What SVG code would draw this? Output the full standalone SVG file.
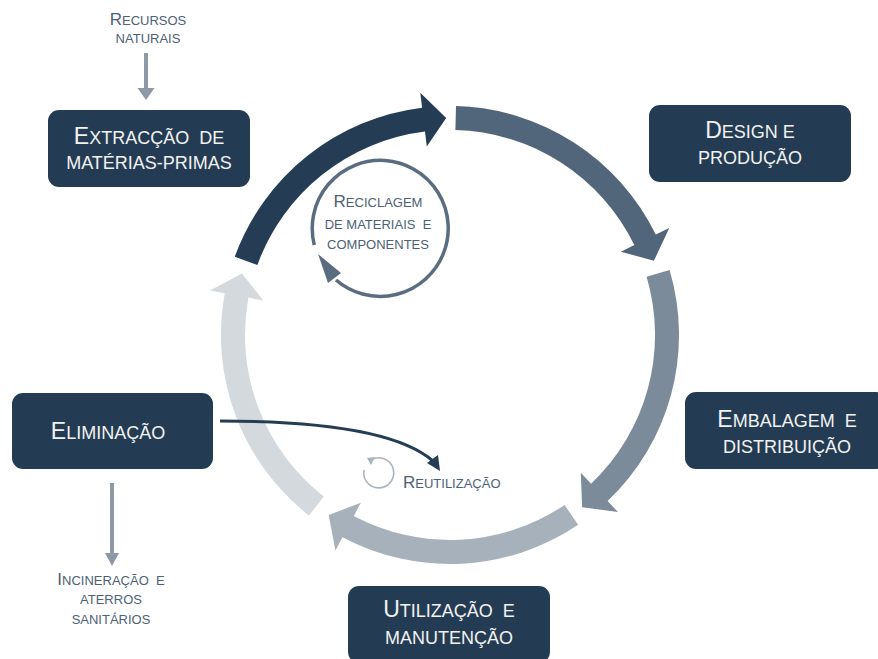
<svg xmlns="http://www.w3.org/2000/svg" width="878" height="659" viewBox="0 0 878 659">
<style>
.box{fill:#243c53}
.bt{font-family:"Liberation Sans",Arial,sans-serif;font-size:18px;fill:#f2f2f2;text-anchor:middle;white-space:pre}
.bt .c{font-size:23px}
.ot{font-family:"Liberation Sans",Arial,sans-serif;font-size:13px;fill:#4d6176;text-anchor:middle;white-space:pre}
.ot .c{font-size:17px}
.gray{stroke:#8d99a6;stroke-width:4;fill:none}
</style>
<rect width="878" height="659" fill="#ffffff"/>
<g id="connectors">
  <path id="seg1" fill="#243d55" d="M234.8,256.7 A229,229 0 0 1 422.1,107.7 L420.3,92.8 L446.2,118 L426.8,146.4 L425,131.5 A205,205 0 0 0 257.4,264.9 Z"/>
  <path id="seg2" fill="#52667b" d="M456,106.1 A229,229 0 0 1 655.8,234.6 L669.3,228 L653.9,260.8 L620.8,251.7 L634.3,245.1 A205,205 0 0 0 455.4,130.1 Z"/>
  <path id="seg3" fill="#7b8b9a" d="M669.6,270 A229,229 0 0 1 607.6,501.1 L618,512 L582.1,507.2 L580.8,472.8 L591.1,483.7 A205,205 0 0 0 646.6,276.8 Z"/>
  <path id="seg4" fill="#a7b1bb" d="M578.1,524.8 A229,229 0 0 1 342.5,537.2 L335.4,550.4 L328.7,514.9 L360.8,502.8 L353.8,516 A205,205 0 0 0 564.6,504.9 Z"/>
  <path id="seg5" fill="#d4d9de" d="M309,515.5 A229,229 0 0 1 224.8,293.3 L210.1,290.5 L241.9,273.4 L263.2,300.4 L248.4,297.6 A205,205 0 0 0 323.8,496.5 Z"/>
  <line class="gray" x1="146" y1="53" x2="146" y2="89"/>
  <polygon fill="#8d99a6" points="137.5,88 154.5,88 146,100"/>
  <line class="gray" x1="112" y1="483" x2="112" y2="554"/>
  <polygon fill="#8d99a6" points="105,553 119,553 112,566"/>
  <path d="M220,421 C320,421 400,432 433,461" fill="none" stroke="#243d55" stroke-width="3"/>
  <polygon fill="#243d55" points="427,463 438,455 440,471"/>
  <path d="M314.3,245 A68,68 0 1 1 336,280" fill="none" stroke="#5a6d80" stroke-width="3.5"/>
  <polygon fill="#5a6d80" points="318,254 341,273 328,283"/>
  <path d="M364,470 A15,15 0 1 0 371,460" fill="none" stroke="#aab4be" stroke-width="1.6"/>
  <polygon fill="#aab4be" points="367,458 375,457 371,465"/>
</g>
<g id="n-extraccao">
  <rect class="box" x="48" y="110" width="202" height="77" rx="11"/>
  <text class="bt" x="149" y="144"><tspan class="c">E</tspan>XTRACÇÃO  DE</text>
  <text class="bt" x="149" y="169">MATÉRIAS-PRIMAS</text>
</g>
<g id="n-design">
  <rect class="box" x="649" y="105" width="202" height="77" rx="11"/>
  <text class="bt" x="750" y="138"><tspan class="c">D</tspan>ESIGN E</text>
  <text class="bt" x="750" y="164">PRODUÇÃO</text>
</g>
<g id="n-embalagem">
  <rect class="box" x="685" y="392" width="202" height="77" rx="11"/>
  <text class="bt" x="787" y="427"><tspan class="c">E</tspan>MBALAGEM  E</text>
  <text class="bt" x="787" y="453">DISTRIBUIÇÃO</text>
</g>
<g id="n-utilizacao">
  <rect class="box" x="348" y="586" width="202" height="77" rx="11"/>
  <text class="bt" x="449" y="617"><tspan class="c">U</tspan>TILIZAÇÃO  E</text>
  <text class="bt" x="449" y="644">MANUTENÇÃO</text>
</g>
<g id="n-eliminacao">
  <rect class="box" x="12" y="393" width="201" height="76" rx="11"/>
  <text class="bt" x="108" y="439"><tspan class="c">E</tspan>LIMINAÇÃO</text>
</g>
<g id="n-recursos">
  <text class="ot" x="148" y="25"><tspan class="c">R</tspan>ECURSOS</text>
  <text class="ot" x="148" y="43">NATURAIS</text>
</g>
<g id="n-reciclagem">
  <text class="ot" x="378" y="207"><tspan class="c">R</tspan>ECICLAGEM</text>
  <text class="ot" x="378" y="229">DE MATERIAIS  E</text>
  <text class="ot" x="378" y="249">COMPONENTES</text>
</g>
<g id="n-reutilizacao">
  <text class="ot" x="403" y="488" style="text-anchor:start"><tspan class="c">R</tspan>EUTILIZAÇÃO</text>
</g>
<g id="n-incineracao">
  <text class="ot" x="111" y="585"><tspan class="c">I</tspan>NCINERAÇÃO  E</text>
  <text class="ot" x="111" y="604">ATERROS</text>
  <text class="ot" x="111" y="624">SANITÁRIOS</text>
</g>
</svg>
